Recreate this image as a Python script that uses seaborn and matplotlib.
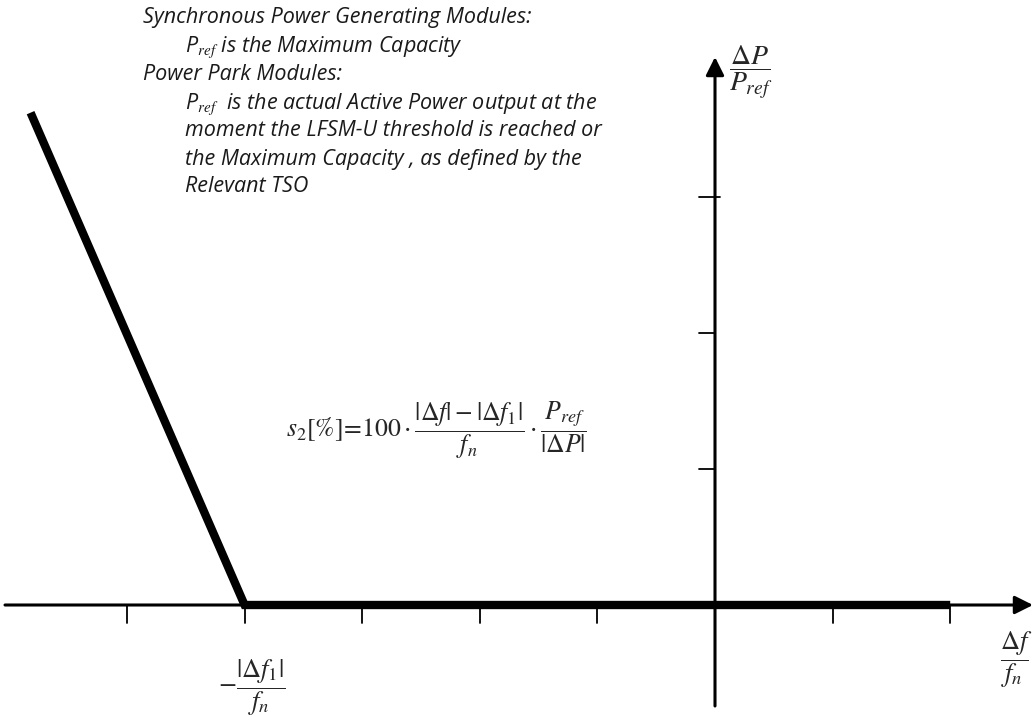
import matplotlib
matplotlib.use("Agg")
import matplotlib.pyplot as plt
import seaborn as sns
import pandas as pd

# ---- data ----
curve_x = [-5.82, -4.0, 2.0]        # Δf/fn in tick units
curve_y = [3.62, 0.0, 0.0]          # ΔP/Pref in tick units
x_ticks = [-5, -4, -3, -2, -1, 1, 2]
y_ticks = [1, 2, 3]
note_lines = [
    ("Synchronous Power Generating Modules:", 0),
    ("P$_{ref}$ is the Maximum Capacity", 1),
    ("Power Park Modules:", 0),
    ("P$_{ref}$  is the actual Active Power output at the", 1),
    ("moment the LFSM-U threshold is reached or", 1),
    ("the Maximum Capacity , as defined by the", 1),
    ("Relevant TSO", 1),
]
note_y_px = [17, 47, 74, 104, 131, 159, 187]

sns.set_style("white")
plt.rcParams["font.family"] = ["Open Sans", "DejaVu Sans"]
plt.rcParams["mathtext.fontset"] = "stix"

W, H = 1033, 724
fig = plt.figure(figsize=(W / 100, H / 100), dpi=100)
ax = fig.add_axes([0, 0, 1, 1])
ax.set_axis_off()

x0_px, y0_px, sx, sy = 715, 605, 117.6, 136.0
ax.set_xlim(-x0_px / sx, (W - x0_px) / sx)
ax.set_ylim((y0_px - H) / sy, y0_px / sy)

# axes with arrowheads
ax.annotate("", xy=((1033 - x0_px) / sx, 0), xytext=((5 - x0_px) / sx, 0),
            arrowprops=dict(arrowstyle="-|>,head_length=1.1,head_width=0.55",
                            color="black", lw=2.2, shrinkA=0, shrinkB=0))
ax.annotate("", xy=(0, (y0_px - 57) / sy), xytext=(0, (y0_px - 706) / sy),
            arrowprops=dict(arrowstyle="-|>,head_length=1.1,head_width=0.55",
                            color="black", lw=2.2, shrinkA=0, shrinkB=0))

# ticks
tlx = 18 / sy
for t in x_ticks:
    ax.plot([t, t], [0, -tlx], color="black", lw=1.3)
tly = 16 / sx
for t in y_ticks:
    right = tly * 0.3 if t == 3 else 0
    ax.plot([-tly, right], [t, t], color="black", lw=1.3)

# characteristic curve
df = pd.DataFrame({"x": curve_x, "y": curve_y})
sns.lineplot(data=df, x="x", y="y", sort=False, color="black", lw=6,
             ax=ax, solid_joinstyle="miter", solid_capstyle="butt")

# notes
for (txt, ind), ypx in zip(note_lines, note_y_px):
    xpx = 143 if ind == 0 else 185
    ax.text(xpx / W, 1 - ypx / H, txt, transform=ax.transAxes, fontsize=15.5,
            style="italic", color="#1a1a1a", ha="left", va="center")

# labels
ax.text(751 / W, 1 - 72 / H, r"$\dfrac{\Delta P}{P_{ref}}$", transform=ax.transAxes,
        fontsize=20, ha="center", va="center")
ax.text(1016 / W, 1 - 660 / H, r"$\dfrac{\Delta f}{f_n}$", transform=ax.transAxes,
        fontsize=19, ha="center", va="center")
ax.text(252 / W, 1 - 688 / H, r"$-\dfrac{|\Delta f_1|}{f_n}$", transform=ax.transAxes,
        fontsize=19, ha="center", va="center")
ax.text(436 / W, 1 - 430 / H,
        r"$s_2[\%]\!=\!100\cdot\dfrac{|\Delta f|-|\Delta f_1|}{f_n}\cdot\dfrac{P_{ref}}{|\Delta P|}$",
        transform=ax.transAxes, fontsize=18.5, ha="center", va="center")

fig.savefig("out.png", dpi=100)
